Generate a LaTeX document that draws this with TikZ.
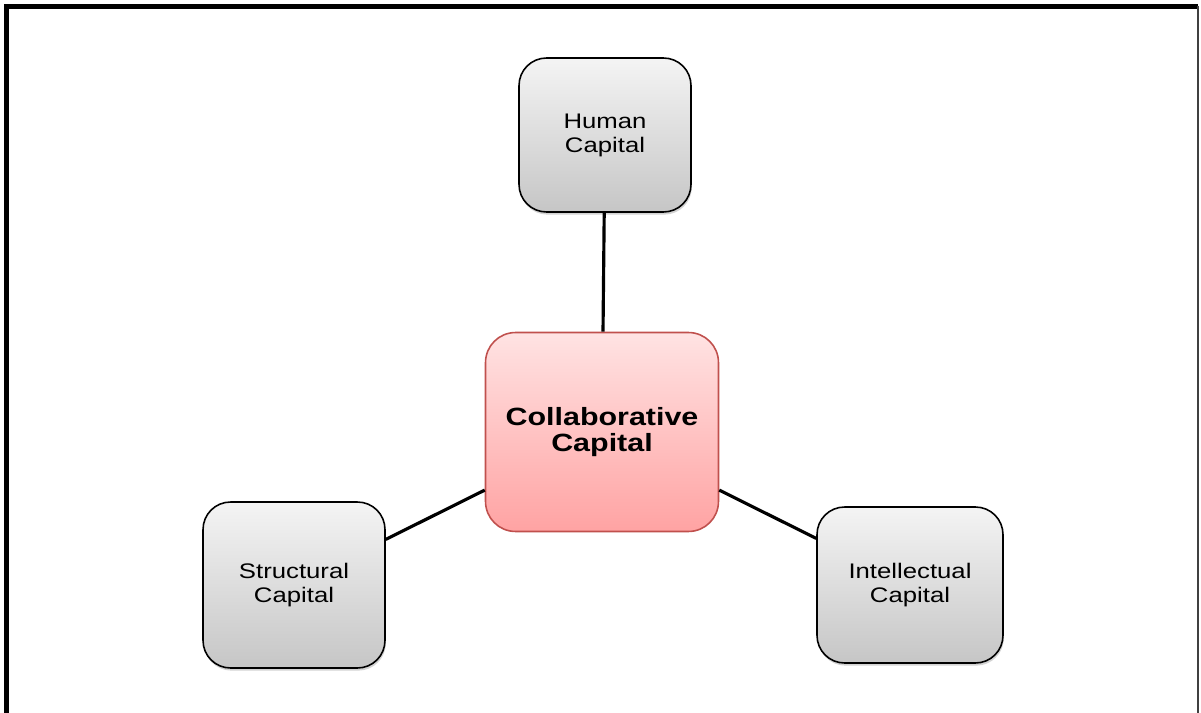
\documentclass[tikz,border=0pt]{standalone}
\usepackage{fontspec}
\setmainfont{Liberation Sans}[FakeStretch=1.22]
\usetikzlibrary{shadows}
\definecolor{edge}{HTML}{000000}
\definecolor{greytop}{HTML}{F4F4F4}
\definecolor{greybot}{HTML}{C6C6C6}
\definecolor{pinktop}{HTML}{FFE3E3}
\definecolor{pinkbot}{HTML}{FFA3A3}
\definecolor{pinkline}{HTML}{C0504D}
\tikzset{
  frame/.style={draw=edge, line width=3pt},
  link/.style={draw=edge, line width=1.8pt},
  capbox/.style={draw=edge, line width=0.9pt, rounded corners=0.55cm,
    top color=greytop, bottom color=greybot, align=center,
    font=\fontsize{12}{13.6}\selectfont,
    drop shadow={shadow xshift=0.5pt, shadow yshift=-1.5pt, opacity=0.35}},
  corebox/.style={draw=pinkline, line width=0.9pt, rounded corners=0.6cm,
    top color=pinktop, bottom color=pinkbot, align=center,
    font=\bfseries\fontsize{14.2}{14.8}\selectfont,
    minimum width=4.66cm, minimum height=3.98cm},
}
\begin{document}
\begin{tikzpicture}[x=0.02cm, y=-0.02cm]
  \useasboundingbox (0,0) rectangle (1201,713);
  \draw[frame] (6.5,713) -- (6.5,6.5) -- (1198,6.5);
  \draw[draw=edge!75, line width=1.5pt] (1198,6.5) -- (1198,713);

  \node[capbox, minimum width=3.44cm, minimum height=3.08cm] (human) at (605,135) {Human\\Capital};
  \node[capbox, minimum width=3.64cm, minimum height=3.32cm] (struct) at (294,585) {Structural\\Capital};
  \node[capbox, minimum width=3.72cm, minimum height=3.12cm] (intel) at (910,585) {Intellectual\\Capital};
  \node[corebox] (collab) at (602,432) {Collaborative\\Capital};

  \draw[link] (human) -- (collab);
  \draw[link] (struct) -- (collab);
  \draw[link] (intel) -- (collab);
\end{tikzpicture}
\end{document}
